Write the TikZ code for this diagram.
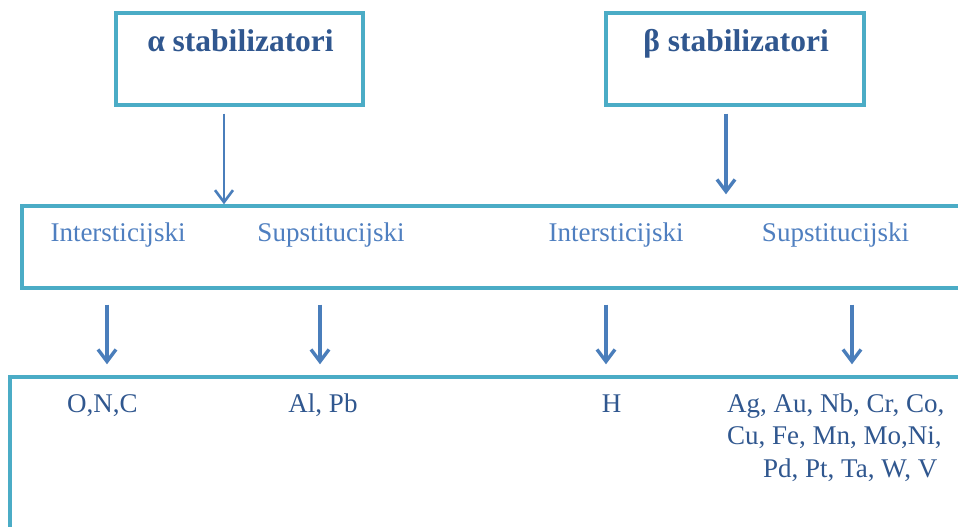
\documentclass[tikz,border=0pt]{standalone}
\usepackage{fontspec}
\setmainfont{Liberation Serif}
\usetikzlibrary{arrows.meta,calc}
\definecolor{boxc}{HTML}{4BACC6}
\definecolor{darkt}{HTML}{30578F}
\definecolor{midt}{HTML}{4F7FC0}
\definecolor{arrc}{HTML}{4A7EBB}
\begin{document}
\begin{tikzpicture}[x=1pt,y=-1pt,
  boxnode/.style={draw=boxc,line width=3.4pt,rectangle,inner sep=0pt,fill=white},
  titletext/.style={anchor=base,inner sep=0pt,text=darkt,font=\fontsize{31.5}{36}\selectfont\bfseries},
  kindtext/.style={anchor=base,inner sep=0pt,text=midt,font=\fontsize{27}{32}\selectfont},
  elemtext/.style={anchor=base,inner sep=0pt,text=darkt,font=\fontsize{27}{32.5}\selectfont},
  arr/.style={draw=arrc,line width=3.4pt,-{Straight Barb[length=12pt,width=18pt]}}]
\useasboundingbox (0,0) rectangle (958,527);
\clip (0,0) rectangle (958,527);
% boxes
\node[boxnode,minimum width=247pt,minimum height=92pt] (a) at (239.5,59) {};
\node[boxnode,minimum width=258pt,minimum height=92pt] (b) at (735,59) {};
\node[boxnode,minimum width=1000pt,minimum height=82pt] (mid) at (522,247) {};
\node[boxnode,minimum width=1000pt,minimum height=200pt] (bot) at (510,477) {};
% titles
\node[titletext] (at) at (240.5,52) {α stabilizatori};
\node[titletext] (bt) at (736,52) {β stabilizatori};
% kinds
\node[kindtext] (k1) at (118,241) {Intersticijski};
\node[kindtext] (k2) at (331,241) {Supstitucijski};
\node[kindtext] (k3) at (616,241) {Intersticijski};
\node[kindtext] (k4) at (835.5,241) {Supstitucijski};
% elements
\node[elemtext] (e1) at (102.5,412) {O,N,C};
\node[elemtext] (e2) at (323,412) {Al, Pb};
\node[elemtext] (e3) at (611.5,412) {H};
\node[elemtext,anchor=base west,align=left] (e4) at (727,477) {Ag, Au, Nb, Cr, Co,\\Cu, Fe, Mn, Mo,Ni,\\\hspace*{36pt}Pd, Pt, Ta, W, V};
% arrows
\coordinate (a1) at ($(a.south)+(-15.5,7)$);
\coordinate (b1) at ($(b.south)+(-9,7)$);
\draw[arr,line width=2.6pt] (a1) -- (a1 |- mid.north);
\draw[arr,shorten >=10pt] (b1) -- (b1 |- mid.north);
\coordinate (d1) at ($(mid.south)+(0,15)$);
\draw[arr,shorten >=11pt] (d1 -| 107,0) -- (107,0 |- bot.north);
\draw[arr,shorten >=11pt] (d1 -| 320,0) -- (320,0 |- bot.north);
\draw[arr,shorten >=11pt] (d1 -| 606,0) -- (606,0 |- bot.north);
\draw[arr,shorten >=11pt] (d1 -| 852,0) -- (852,0 |- bot.north);
\end{tikzpicture}
\end{document}
